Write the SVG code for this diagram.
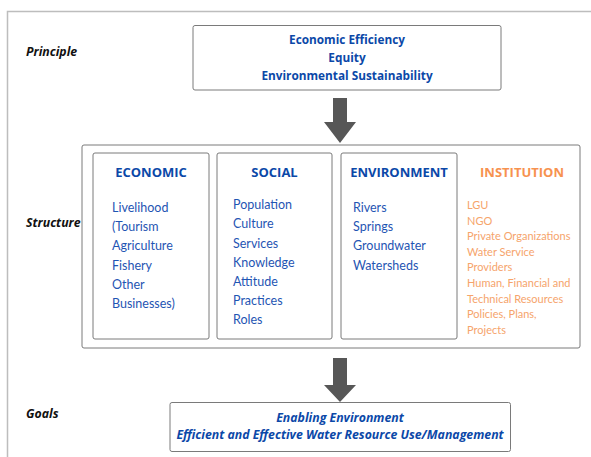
<svg xmlns="http://www.w3.org/2000/svg" width="591" height="457" viewBox="0 0 591 457">
<defs>
<style>
.frame{fill:none;stroke:#bdbdbd;stroke-width:1.5}
.box{fill:#fff;stroke:#7a7a7a;stroke-width:1}
.lbl{font-family:"Open Sans","Liberation Sans",sans-serif;font-weight:700;font-style:italic;font-size:12.3px;fill:#111}
.pr{font-family:"Open Sans","Liberation Sans",sans-serif;font-weight:700;font-size:11.8px;fill:#0b48a8;text-anchor:middle}
.goal{font-family:"Open Sans","Liberation Sans",sans-serif;font-weight:700;font-style:italic;font-size:12.3px;fill:#0b48a8;text-anchor:middle}
.ttl{font-family:"Open Sans","Liberation Sans",sans-serif;font-weight:700;font-size:13px;fill:#0b48a8;text-anchor:middle}
.ttlo{fill:#f7924f}
.it{font-family:"Lato","Liberation Sans",sans-serif;font-size:12.5px;fill:#1f55b3}
.io{font-family:"Lato","Liberation Sans",sans-serif;font-size:11px;fill:#f6a46b}
.arr{fill:#575757}
</style>
</defs>
<rect width="591" height="457" fill="#fff"/>
<path class="frame" d="M7.5 460 V11.5 H600"/>
<g id="labels">
<text class="lbl" x="26" y="56">Principle</text>
<text class="lbl" x="26" y="227">Structure</text>
<text class="lbl" x="26" y="418">Goals</text>
</g>
<g id="principle">
<rect class="box" x="193" y="25.5" width="308" height="64.5" rx="2"/>
<text class="pr" x="347" y="44">Economic Efficiency</text>
<text class="pr" x="347" y="62">Equity</text>
<text class="pr" x="347" y="80">Environmental Sustainability</text>
</g>
<g id="structure">
<rect class="box" x="82" y="145" width="498" height="203" rx="2"/>
</g>
<g id="economic">
<rect class="box" x="93" y="153" width="116" height="186" rx="2"/>
<text class="ttl" x="151" y="177">ECONOMIC</text>
<text class="it" x="112" y="212">Livelihood</text>
<text class="it" x="112" y="231">(Tourism</text>
<text class="it" x="112" y="250">Agriculture</text>
<text class="it" x="112" y="269.5">Fishery</text>
<text class="it" x="112" y="288.5">Other</text>
<text class="it" x="112" y="307.5">Businesses)</text>
</g>
<g id="social">
<rect class="box" x="217" y="153" width="115" height="186" rx="2"/>
<text class="ttl" x="274.5" y="177">SOCIAL</text>
<text class="it" x="233" y="209">Population</text>
<text class="it" x="233" y="228.3">Culture</text>
<text class="it" x="233" y="247.5">Services</text>
<text class="it" x="233" y="266.8">Knowledge</text>
<text class="it" x="233" y="286">Attitude</text>
<text class="it" x="233" y="305.2">Practices</text>
<text class="it" x="233" y="324.4">Roles</text>
</g>
<g id="environment">
<rect class="box" x="341" y="153" width="116" height="186" rx="2"/>
<text class="ttl" x="399" y="177">ENVIRONMENT</text>
<text class="it" x="353" y="212">Rivers</text>
<text class="it" x="353" y="231">Springs</text>
<text class="it" x="353" y="250">Groundwater</text>
<text class="it" x="353" y="269.5">Watersheds</text>
</g>
<g id="institution">
<text class="ttl ttlo" x="522" y="177">INSTITUTION</text>
<text class="io" x="467" y="209">LGU</text>
<text class="io" x="467" y="224.5">NGO</text>
<text class="io" x="467" y="240.2">Private Organizations</text>
<text class="io" x="467" y="255.8">Water Service</text>
<text class="io" x="467" y="271.4">Providers</text>
<text class="io" x="467" y="287">Human, Financial and</text>
<text class="io" x="467" y="302.7">Technical Resources</text>
<text class="io" x="467" y="318.3">Policies, Plans,</text>
<text class="io" x="467" y="334">Projects</text>
</g>
<g id="goals">
<rect class="box" x="170" y="402.5" width="340.5" height="49" rx="2"/>
<text class="goal" x="340" y="422">Enabling Environment</text>
<text class="goal" x="340" y="438.5">Efficient and Effective Water Resource Use/Management</text>
</g>
<g id="connectors">
<path class="arr" d="M333 98 H347 V122 H356 L340 143 L324 122 H333 Z"/>
<path class="arr" d="M333 358 H347 V385 H356 L340 402 L324 385 H333 Z"/>
</g>
</svg>
